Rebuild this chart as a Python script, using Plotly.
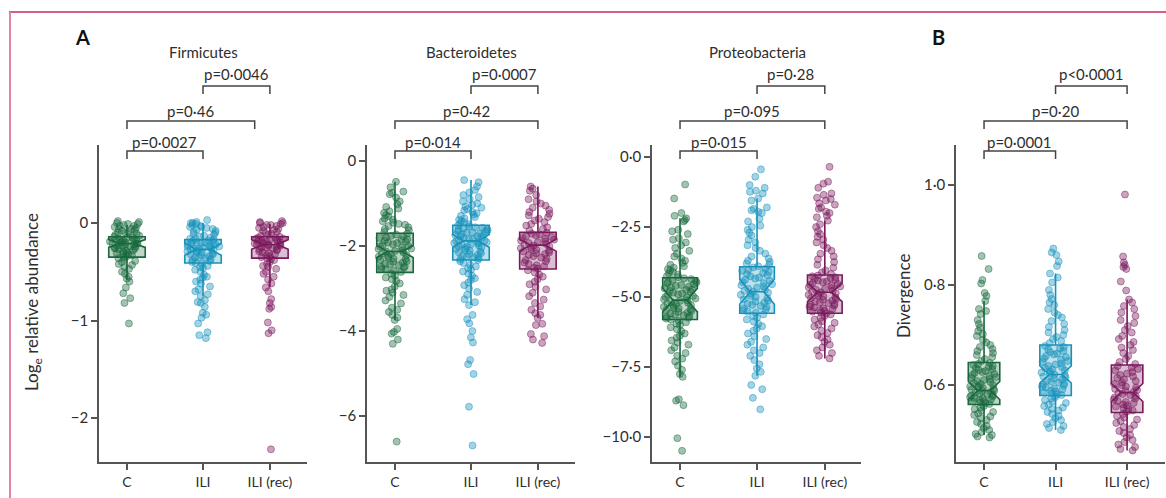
import plotly.graph_objects as go

W, H = 1166, 498

categories = ["C", "ILI", "ILI (rec)"]
panel_titles = ["Firmicutes", "Bacteroidetes", "Proteobacteria"]

# ---------------- point values ----------------
firm_C = [0.02, 0.01, 0.0, -0.01, -0.01, -0.02, -0.03, -0.03, -0.04, -0.05, -0.06, -0.06, -0.07, -0.08,
          -0.09, -0.1, -0.1, -0.11, -0.12, -0.13, -0.13, -0.14, -0.15, -0.15, -0.16, -0.17, -0.17, -0.18,
          -0.18, -0.19, -0.19, -0.2, -0.2, -0.21, -0.21, -0.21, -0.22, -0.22, -0.23, -0.23, -0.24, -0.24,
          -0.25, -0.26, -0.26, -0.27, -0.28, -0.28, -0.29, -0.3, -0.31, -0.31, -0.32, -0.33, -0.34, -0.35,
          -0.36, -0.37, -0.39, -0.4, -0.42, -0.43, -0.45, -0.47, -0.5, -0.52, -0.55, -0.57, -0.6, -0.66,
          -0.72, -0.77, -0.82, -1.03]
firm_ILI = [0.03, 0.01, 0.0, 0.0, -0.01, -0.02, -0.03, -0.04, -0.04, -0.05, -0.06, -0.07, -0.08, -0.09,
            -0.1, -0.11, -0.12, -0.13, -0.14, -0.15, -0.16, -0.16, -0.17, -0.18, -0.18, -0.19, -0.2, -0.2,
            -0.21, -0.21, -0.22, -0.22, -0.23, -0.24, -0.24, -0.25, -0.25, -0.26, -0.26, -0.27, -0.27,
            -0.28, -0.28, -0.29, -0.3, -0.3, -0.31, -0.32, -0.32, -0.33, -0.34, -0.35, -0.35, -0.36, -0.37,
            -0.38, -0.39, -0.4, -0.41, -0.42, -0.44, -0.45, -0.46, -0.48, -0.5, -0.53, -0.55, -0.56, -0.58,
            -0.6, -0.62, -0.65, -0.68, -0.7, -0.73, -0.75, -0.79, -0.81, -0.82, -0.86, -0.92, -0.94, -0.97,
            -1.03, -1.12, -1.15, -1.18]
firm_rec = [0.02, 0.01, 0.0, 0.0, -0.01, -0.02, -0.02, -0.03, -0.04, -0.05, -0.06, -0.07, -0.08, -0.09,
            -0.1, -0.11, -0.12, -0.13, -0.14, -0.15, -0.15, -0.16, -0.16, -0.17, -0.17, -0.18, -0.18,
            -0.19, -0.19, -0.2, -0.2, -0.21, -0.21, -0.22, -0.22, -0.22, -0.23, -0.23, -0.24, -0.25, -0.25,
            -0.26, -0.27, -0.27, -0.28, -0.29, -0.3, -0.31, -0.32, -0.33, -0.34, -0.35, -0.36, -0.37, -0.38,
            -0.4, -0.42, -0.44, -0.45, -0.47, -0.5, -0.52, -0.55, -0.58, -0.62, -0.66, -0.7, -0.78, -0.82,
            -0.86, -0.88, -1.02, -1.1, -1.13, -2.32]

bact_C = [-0.49, -0.62, -0.72, -0.75, -0.78, -0.86, -0.95, -1.02, -1.08, -1.12, -1.18, -1.22, -1.27, -1.3,
          -1.35, -1.38, -1.42, -1.45, -1.48, -1.5, -1.53, -1.56, -1.6, -1.63, -1.67, -1.71, -1.73, -1.76,
          -1.77, -1.8, -1.81, -1.84, -1.86, -1.87, -1.9, -1.92, -1.93, -1.96, -1.98, -2.0, -2.01, -2.04,
          -2.06, -2.07, -2.1, -2.12, -2.13, -2.15, -2.18, -2.19, -2.21, -2.24, -2.25, -2.27, -2.3, -2.31,
          -2.33, -2.36, -2.37, -2.39, -2.42, -2.43, -2.45, -2.48, -2.49, -2.51, -2.54, -2.55, -2.58, -2.61,
          -2.65, -2.7, -2.74, -2.78, -2.82, -2.88, -2.95, -3.02, -3.05, -3.1, -3.15, -3.2, -3.28, -3.35,
          -3.45, -3.5, -3.55, -3.62, -3.68, -3.74, -3.95, -4.02, -4.06, -4.2, -4.3, -6.6]
bact_ILI = [-0.45, -0.5, -0.6, -0.68, -0.74, -0.8, -0.85, -0.9, -0.95, -1.0, -1.03, -1.07, -1.1, -1.13,
            -1.16, -1.2, -1.23, -1.26, -1.29, -1.32, -1.35, -1.38, -1.41, -1.44, -1.47, -1.49, -1.52,
            -1.54, -1.56, -1.57, -1.59, -1.6, -1.62, -1.63, -1.65, -1.66, -1.68, -1.69, -1.71, -1.72, -1.74,
            -1.75, -1.77, -1.78, -1.8, -1.81, -1.83, -1.84, -1.86, -1.87, -1.88, -1.9, -1.91, -1.93, -1.94,
            -1.96, -1.97, -1.99, -2.0, -2.02, -2.03, -2.05, -2.07, -2.09, -2.11, -2.13, -2.15, -2.17, -2.19,
            -2.21, -2.23, -2.25, -2.27, -2.29, -2.31, -2.33, -2.36, -2.4, -2.44, -2.48, -2.52, -2.56, -2.6,
            -2.65, -2.7, -2.76, -2.8, -2.86, -2.92, -3.0, -3.08, -3.15, -3.25, -3.32, -3.39, -3.62, -3.72,
            -3.82, -4.0, -4.15, -4.27, -4.68, -4.78, -5.01, -5.78, -6.69]
bact_rec = [-0.6, -0.65, -0.7, -0.8, -0.9, -0.95, -1.0, -1.05, -1.1, -1.15, -1.2, -1.24, -1.28, -1.32,
            -1.36, -1.4, -1.44, -1.48, -1.52, -1.56, -1.6, -1.64, -1.69, -1.71, -1.73, -1.75, -1.77, -1.79,
            -1.81, -1.83, -1.85, -1.87, -1.89, -1.91, -1.93, -1.95, -1.97, -1.99, -2.01, -2.03, -2.05,
            -2.07, -2.09, -2.11, -2.13, -2.15, -2.17, -2.19, -2.21, -2.24, -2.27, -2.3, -2.33, -2.36, -2.39,
            -2.42, -2.45, -2.48, -2.51, -2.53, -2.57, -2.62, -2.67, -2.72, -2.78, -2.84, -2.9, -2.96, -3.02,
            -3.1, -3.18, -3.26, -3.34, -3.42, -3.5, -3.58, -3.62, -3.69, -3.83, -3.86, -4.07, -4.12, -4.2,
            -4.28]

prot_C = [-0.98, -1.48, -2.0, -2.1, -2.19, -2.25, -2.3, -2.6, -2.65, -2.75, -2.9, -2.95, -3.05, -3.15,
          -3.25, -3.35, -3.45, -3.55, -3.62, -3.7, -3.78, -3.85, -3.9, -3.95, -4.0, -4.05, -4.1, -4.15,
          -4.2, -4.25, -4.29, -4.33, -4.36, -4.39, -4.42, -4.45, -4.48, -4.51, -4.54, -4.57, -4.6, -4.63,
          -4.66, -4.69, -4.72, -4.75, -4.78, -4.81, -4.84, -4.87, -4.9, -4.93, -4.96, -4.99, -5.02, -5.05,
          -5.08, -5.11, -5.14, -5.17, -5.2, -5.23, -5.26, -5.29, -5.32, -5.35, -5.38, -5.41, -5.44, -5.47,
          -5.5, -5.53, -5.56, -5.59, -5.62, -5.65, -5.68, -5.71, -5.74, -5.77, -5.8, -5.85, -5.9, -5.95,
          -6.0, -6.08, -6.15, -6.22, -6.3, -6.38, -6.45, -6.55, -6.62, -6.7, -6.8, -6.9, -7.0, -7.1, -7.2,
          -7.3, -7.45, -7.6, -7.75, -7.85, -8.65, -8.7, -8.86, -10.04, -10.49]
prot_ILI = [-0.44, -0.7, -1.0, -1.1, -1.2, -1.24, -1.3, -1.48, -1.55, -1.8, -1.85, -1.9, -1.95, -2.0, -2.2,
            -2.3, -2.45, -2.5, -2.6, -2.7, -2.8, -2.95, -3.05, -3.15, -3.25, -3.35, -3.45, -3.55, -3.62,
            -3.7, -3.75, -3.8, -3.85, -3.9, -3.94, -3.98, -4.02, -4.06, -4.1, -4.14, -4.18, -4.22, -4.26,
            -4.3, -4.34, -4.38, -4.42, -4.46, -4.5, -4.54, -4.58, -4.62, -4.66, -4.7, -4.74, -4.78, -4.81,
            -4.84, -4.88, -4.92, -4.96, -5.0, -5.04, -5.08, -5.12, -5.16, -5.2, -5.24, -5.28, -5.32, -5.36,
            -5.4, -5.44, -5.48, -5.52, -5.56, -5.62, -5.68, -5.74, -5.8, -5.88, -5.96, -6.04, -6.12, -6.2,
            -6.3, -6.4, -6.5, -6.6, -6.7, -6.8, -6.9, -7.0, -7.1, -7.25, -7.4, -7.55, -7.67, -7.81, -8.14,
            -8.29, -8.6, -9.01]
prot_rec = [-0.35, -0.88, -0.95, -1.1, -1.3, -1.35, -1.45, -1.5, -1.55, -1.65, -1.7, -1.8, -1.85, -1.95,
            -2.0, -2.1, -2.15, -2.27, -2.4, -2.5, -2.65, -2.75, -2.85, -2.95, -3.05, -3.15, -3.25, -3.35,
            -3.45, -3.55, -3.65, -3.75, -3.85, -3.95, -4.05, -4.12, -4.18, -4.23, -4.26, -4.29, -4.32,
            -4.35, -4.38, -4.41, -4.44, -4.47, -4.5, -4.53, -4.56, -4.59, -4.62, -4.65, -4.68, -4.71, -4.74,
            -4.77, -4.8, -4.83, -4.86, -4.89, -4.92, -4.95, -4.98, -5.01, -5.04, -5.07, -5.1, -5.13, -5.16,
            -5.19, -5.22, -5.25, -5.28, -5.31, -5.34, -5.37, -5.4, -5.43, -5.46, -5.49, -5.52, -5.55, -5.58,
            -5.62, -5.68, -5.74, -5.8, -5.86, -5.92, -5.98, -6.05, -6.12, -6.2, -6.28, -6.36, -6.44, -6.52,
            -6.6, -6.7, -6.8, -6.9, -7.0, -7.1, -7.19]

div_C = [0.858, 0.832, 0.81, 0.803, 0.784, 0.778, 0.768, 0.752, 0.748, 0.742, 0.73, 0.722, 0.715, 0.708,
         0.702, 0.698, 0.69, 0.685, 0.68, 0.676, 0.672, 0.668, 0.664, 0.66, 0.656, 0.652, 0.648, 0.644,
         0.642, 0.64, 0.638, 0.636, 0.634, 0.632, 0.63, 0.628, 0.626, 0.624, 0.622, 0.62, 0.618, 0.616,
         0.614, 0.612, 0.61, 0.608, 0.606, 0.604, 0.602, 0.6, 0.598, 0.597, 0.595, 0.594, 0.592, 0.591,
         0.589, 0.588, 0.586, 0.585, 0.583, 0.582, 0.58, 0.579, 0.577, 0.576, 0.574, 0.573, 0.571, 0.57,
         0.568, 0.567, 0.565, 0.564, 0.562, 0.558, 0.555, 0.552, 0.549, 0.546, 0.543, 0.54, 0.537, 0.534,
         0.53, 0.526, 0.522, 0.518, 0.514, 0.51, 0.506, 0.502, 0.5, 0.497, 0.495]
div_ILI = [0.873, 0.865, 0.86, 0.847, 0.838, 0.823, 0.815, 0.805, 0.79, 0.78, 0.772, 0.765, 0.76, 0.752,
           0.745, 0.74, 0.735, 0.728, 0.722, 0.716, 0.71, 0.705, 0.7, 0.696, 0.692, 0.688, 0.684, 0.678,
           0.676, 0.673, 0.671, 0.668, 0.666, 0.663, 0.661, 0.658, 0.656, 0.653, 0.651, 0.648, 0.646, 0.643,
           0.641, 0.638, 0.636, 0.634, 0.631, 0.629, 0.627, 0.625, 0.623, 0.621, 0.619, 0.617, 0.615, 0.613,
           0.611, 0.609, 0.607, 0.605, 0.603, 0.601, 0.599, 0.597, 0.595, 0.593, 0.591, 0.589, 0.587, 0.585,
           0.583, 0.581, 0.58, 0.576, 0.573, 0.57, 0.567, 0.564, 0.561, 0.558, 0.555, 0.552, 0.549, 0.546,
           0.542, 0.538, 0.534, 0.53, 0.526, 0.522, 0.518, 0.514, 0.51]
div_rec = [0.981, 0.857, 0.845, 0.84, 0.836, 0.832, 0.807, 0.789, 0.771, 0.765, 0.758, 0.752, 0.745, 0.738,
           0.73, 0.724, 0.718, 0.71, 0.705, 0.698, 0.692, 0.686, 0.68, 0.675, 0.67, 0.664, 0.658, 0.652,
           0.646, 0.642, 0.638, 0.635, 0.632, 0.629, 0.626, 0.623, 0.62, 0.617, 0.614, 0.611, 0.608, 0.605,
           0.602, 0.6, 0.597, 0.595, 0.592, 0.59, 0.588, 0.586, 0.584, 0.582, 0.58, 0.578, 0.575, 0.573,
           0.571, 0.568, 0.566, 0.564, 0.561, 0.559, 0.557, 0.554, 0.552, 0.549, 0.547, 0.542, 0.538, 0.535,
           0.531, 0.528, 0.524, 0.52, 0.516, 0.512, 0.508, 0.504, 0.5, 0.495, 0.49, 0.486, 0.481, 0.476,
           0.472, 0.469]

# ---------------- box statistics ----------------
firm_q1 = [-0.35, -0.41, -0.36]
firm_med = [-0.21, -0.27, -0.22]
firm_q3 = [-0.14, -0.17, -0.14]
firm_lo = [-0.58, -0.75, -0.66]
firm_hi = [-0.02, 0.0, -0.01]
firm_notch = [0.04, 0.06, 0.05]

bact_q1 = [-2.62, -2.33, -2.54]
bact_med = [-2.13, -1.88, -1.98]
bact_q3 = [-1.70, -1.51, -1.68]
bact_lo = [-3.74, -3.39, -3.69]
bact_hi = [-0.49, -0.45, -0.60]
bact_notch = [0.14, 0.15, 0.14]

prot_q1 = [-5.80, -5.58, -5.58]
prot_med = [-5.11, -4.81, -4.83]
prot_q3 = [-4.31, -3.92, -4.21]
prot_lo = [-7.85, -7.81, -7.19]
prot_hi = [-2.19, -1.48, -2.27]
prot_notch = [0.42, 0.45, 0.33]

div_q1 = [0.561, 0.579, 0.545]
div_med = [0.589, 0.621, 0.585]
div_q3 = [0.645, 0.680, 0.640]
div_lo = [0.500, 0.510, 0.469]
div_hi = [0.768, 0.823, 0.771]
div_notch = [0.018, 0.017, 0.018]

# ---------------- tick labels ----------------
firm_ticks = [0, -1, -2]
firm_ticktext = ["0", "\u22121", "\u22122"]
bact_ticks = [0, -2, -4, -6]
bact_ticktext = ["0", "\u22122", "\u22124", "\u22126"]
prot_ticks = [0, -2.5, -5, -7.5, -10]
prot_ticktext = ["0\u00b70", "\u22122\u00b75", "\u22125\u00b70", "\u22127\u00b75", "\u221210\u00b70"]
div_ticks = [0.6, 0.8, 1.0]
div_ticktext = ["0\u00b76", "0\u00b78", "1\u00b70"]

# ---------------- p-value labels ----------------
firm_p = ["p=0\u00b70027", "p=0\u00b746", "p=0\u00b70046"]
bact_p = ["p=0\u00b7014", "p=0\u00b742", "p=0\u00b70007"]
prot_p = ["p=0\u00b7015", "p=0\u00b7095", "p=0\u00b728"]
div_p = ["p=0\u00b70001", "p=0\u00b720", "p<0\u00b70001"]

# ---------------- style ----------------
COLORS = [(23, 104, 59), (22, 146, 188), (122, 24, 92)]
AX = "#555555"
TXT = "#2e2e2e"
FONT = "Lato"

A_POS = [0, 1, 1.88]
B_POS = [0, 1, 2]


def rgba(c, a):
    return "rgba(%d,%d,%d,%.2f)" % (c[0], c[1], c[2], a)


panels = [
    dict(pts=[firm_C, firm_ILI, firm_rec], q1=firm_q1, med=firm_med, q3=firm_q3, lo=firm_lo, hi=firm_hi,
         notch=firm_notch, ticks=firm_ticks, ticktext=firm_ticktext, p=firm_p, pos=A_POS,
         xdom=[99 / W, 307 / W], xr=[-0.368, 2.368], yr=[-2.45, 0.8], bw=0.48, mid_end=1.68),
    dict(pts=[bact_C, bact_ILI, bact_rec], q1=bact_q1, med=bact_med, q3=bact_q3, lo=bact_lo, hi=bact_hi,
         notch=bact_notch, ticks=bact_ticks, ticktext=bact_ticktext, p=bact_p, pos=A_POS,
         xdom=[367 / W, 575 / W], xr=[-0.368, 2.368], yr=[-7.08, 0.376], bw=0.48, mid_end=1.88),
    dict(pts=[prot_C, prot_ILI, prot_rec], q1=prot_q1, med=prot_med, q3=prot_q3, lo=prot_lo, hi=prot_hi,
         notch=prot_notch, ticks=prot_ticks, ticktext=prot_ticktext, p=prot_p, pos=A_POS,
         xdom=[652 / W, 861 / W], xr=[-0.364, 2.35], yr=[-10.89, 0.43], bw=0.45, mid_end=1.88),
    dict(pts=[div_C, div_ILI, div_rec], q1=div_q1, med=div_med, q3=div_q3, lo=div_lo, hi=div_hi,
         notch=div_notch, ticks=div_ticks, ticktext=div_ticktext, p=div_p, pos=B_POS,
         xdom=[956 / W, 1165 / W], xr=[-0.392, 2.53], yr=[0.446, 1.08], bw=0.44, mid_end=2),
]

YDOM = [(H - 462) / H, (H - 145) / H]


def py(px):
    return (H - px) / H


fig = go.Figure()
layout = dict(width=W, height=H, autosize=False, margin=dict(l=0, r=0, t=0, b=0),
              paper_bgcolor="white", plot_bgcolor="white", showlegend=False,
              font=dict(family=FONT, color=TXT, size=14), boxmode="overlay")
shapes = []
annotations = []

for k, P in enumerate(panels):
    n = "" if k == 0 else str(k + 1)
    xa, ya = "x" + n, "y" + n
    for i in range(3):
        c = COLORS[i]
        vals = P["pts"][i]
        # jittered sample points (library jitter), invisible box
        fig.add_trace(go.Box(
            x=[P["pos"][i]] * len(vals), y=vals, xaxis=xa, yaxis=ya,
            boxpoints="all", jitter=0.95, pointpos=0, width=P["bw"],
            fillcolor="rgba(0,0,0,0)", line=dict(width=0, color="rgba(0,0,0,0)"),
            marker=dict(size=7, color=rgba(c, 0.4), line=dict(width=1, color=rgba(c, 0.45))),
            hoverinfo="skip"))
        # notched box from the read statistics
        fig.add_trace(go.Box(
            x=[P["pos"][i]], q1=[P["q1"][i]], median=[P["med"][i]], q3=[P["q3"][i]],
            lowerfence=[P["lo"][i]], upperfence=[P["hi"][i]], notchspan=[P["notch"][i]],
            notched=True, notchwidth=0.3, whiskerwidth=0, width=P["bw"], boxpoints=False,
            xaxis=xa, yaxis=ya, fillcolor=rgba(c, 0.28), line=dict(color=rgba(c, 1), width=1.6),
            hoverinfo="skip"))

    axis_common = dict(showline=True, linecolor=AX, linewidth=1.5, ticks="outside", ticklen=6,
                       tickwidth=1.5, tickcolor=AX, showgrid=False, zeroline=False, fixedrange=True)
    layout["xaxis" + n] = dict(domain=P["xdom"], range=P["xr"], tickmode="array", tickvals=P["pos"],
                               ticktext=categories, anchor=ya,
                               tickfont=dict(size=14, color=TXT, family=FONT), **axis_common)
    layout["yaxis" + n] = dict(domain=YDOM, range=P["yr"], tickmode="array", tickvals=P["ticks"],
                               ticktext=P["ticktext"], anchor=xa,
                               tickfont=dict(size=15, color=TXT, family=FONT), **axis_common)

    # comparison brackets: (left end, right end, label, line px, text px)
    pos = P["pos"]
    brackets = [(pos[0], pos[1], P["p"][0], 151, 142),
                (pos[0], P["mid_end"], P["p"][1], 121, 111),
                (pos[1], pos[2], P["p"][2], 86, 74)]
    for x0, x1, lab, ly, ty in brackets:
        shapes.append(dict(type="path", xref=xa, yref="paper",
                           path="M %f,%f L %f,%f L %f,%f L %f,%f" % (x0, py(ly + 8), x0, py(ly), x1, py(ly), x1, py(ly + 8)),
                           line=dict(color="#444444", width=1.5)))
        annotations.append(dict(text=lab, x=(x0 + x1) / 2, y=py(ty), xref=xa, yref="paper",
                                showarrow=False, xanchor="center", yanchor="middle",
                                font=dict(size=15, color=TXT, family=FONT)))
    if k < 3:
        annotations.append(dict(text=panel_titles[k], x=pos[1], y=py(52), xref=xa, yref="paper",
                                showarrow=False, xanchor="center", yanchor="middle",
                                font=dict(size=15, color=TXT, family=FONT)))

# panel letters and y-axis titles
annotations += [
    dict(text="<b>A</b>", x=82 / W, y=py(37), xref="paper", yref="paper", showarrow=False,
         xanchor="center", yanchor="middle", font=dict(size=20, color="#111111", family=FONT)),
    dict(text="<b>B</b>", x=938 / W, y=py(37), xref="paper", yref="paper", showarrow=False,
         xanchor="center", yanchor="middle", font=dict(size=20, color="#111111", family=FONT)),
    dict(text="Log<sub>e</sub> relative abundance", x=33 / W, y=py(302), xref="paper", yref="paper",
         showarrow=False, textangle=-90, xanchor="center", yanchor="middle",
         font=dict(size=17, color=TXT, family=FONT)),
    dict(text="Divergence", x=903 / W, y=py(296), xref="paper", yref="paper",
         showarrow=False, textangle=-90, xanchor="center", yanchor="middle",
         font=dict(size=17, color=TXT, family=FONT)),
]

# page frame
shapes += [
    dict(type="line", xref="paper", yref="paper", x0=9 / W, x1=1, y0=py(12), y1=py(12),
         line=dict(color="#c8285a", width=1.5)),
    dict(type="line", xref="paper", yref="paper", x0=10 / W, x1=10 / W, y0=py(12), y1=0,
         line=dict(color="#e283a5", width=2)),
]

layout["shapes"] = shapes
layout["annotations"] = annotations
fig.update_layout(**layout)

fig.write_html("out.html", config={"displayModeBar": False},
               post_script="document.body.style.margin='0';document.body.style.overflow='hidden';")
